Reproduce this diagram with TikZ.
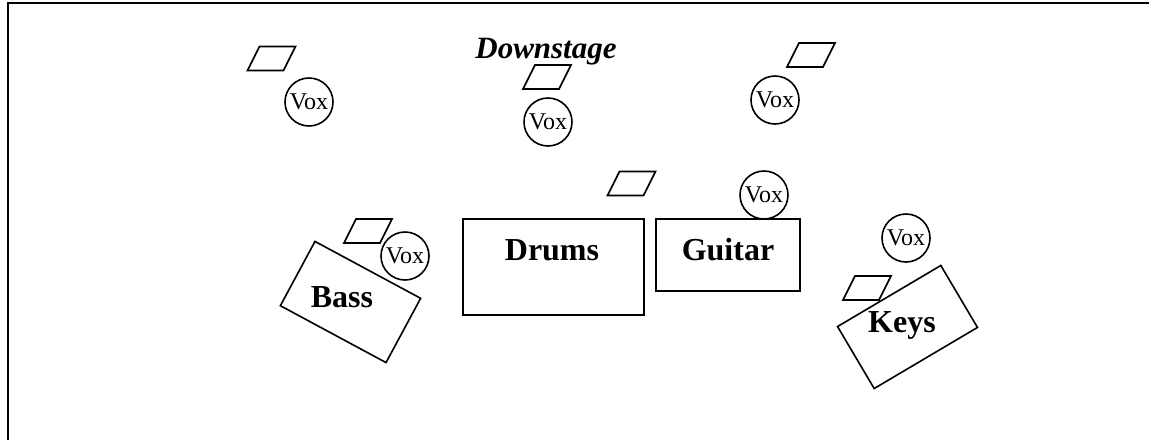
\documentclass[tikz,border=0pt]{standalone}
\usepackage{fontspec}
\setmainfont{Liberation Serif}
\usetikzlibrary{shapes,positioning}
\tikzset{amp/.style={rectangle, draw, line width=1.6pt, inner sep=0pt}}
\tikzset{vox/.style={circle, draw, line width=1.6pt, minimum size=48pt, inner sep=0pt, font=\fontsize{24}{26}\selectfont}}
\tikzset{wedge/.style={rectangle, draw, line width=1.6pt, minimum width=36pt, minimum height=24pt, inner sep=0pt, xslant=0.5}}
\tikzset{tag/.style={anchor=base, font=\fontsize{32}{36}\selectfont\bfseries}}

\begin{document}
\begin{tikzpicture}[x=1pt, y=-1pt]
        \useasboundingbox (0,0) rectangle (1149,440);
        \draw[line width=2.5pt] (8,440) -- (8,3) -- (1149,3);

        \node[anchor=base, font=\fontsize{31}{34}\selectfont\bfseries\itshape] (down) at (546,58) {Downstage};

        % front line
        \node[wedge] (w1) at (271.5,58.5) {};
        \node[vox]   (v1) at (309,102) {Vox};
        \node[wedge] (w2) at (547,77) {};
        \node[vox]   (v2) at (548,122) {Vox};
        \node[wedge] (w3) at (811,55) {};
        \node[vox]   (v3) at (775,100) {Vox};

        % backline
        \node[amp, minimum width=181pt, minimum height=96pt] (drums) at (553.5,267) {};
        \node[tag] (drumstxt) at (552,260) {Drums};
        \node[wedge] (w4) at (631.5,183.5) {};

        \node[amp, minimum width=144pt, minimum height=72pt] (guitar) at (728,255) {};
        \node[tag] (guitartxt) at (728,260) {Guitar};
        \node[vox] (v4) at (764,195) {Vox};

        \node[amp, minimum width=120pt, minimum height=73pt, rotate=-28.3] (bass) at (350.5,302) {};
        \node[tag] (basstxt) at (342,307) {Bass};
        \node[wedge] (w5) at (368,231) {};
        \node[vox]   (v5) at (405,256) {Vox};

        \node[amp, minimum width=120pt, minimum height=72pt, rotate=30.6] (keys) at (907.5,327) {};
        \node[tag] (keystxt) at (902,332) {Keys};
        \node[wedge] (w6) at (867,288) {};
        \node[vox]   (v6) at (906,238) {Vox};
      \end{tikzpicture}
\end{document}
